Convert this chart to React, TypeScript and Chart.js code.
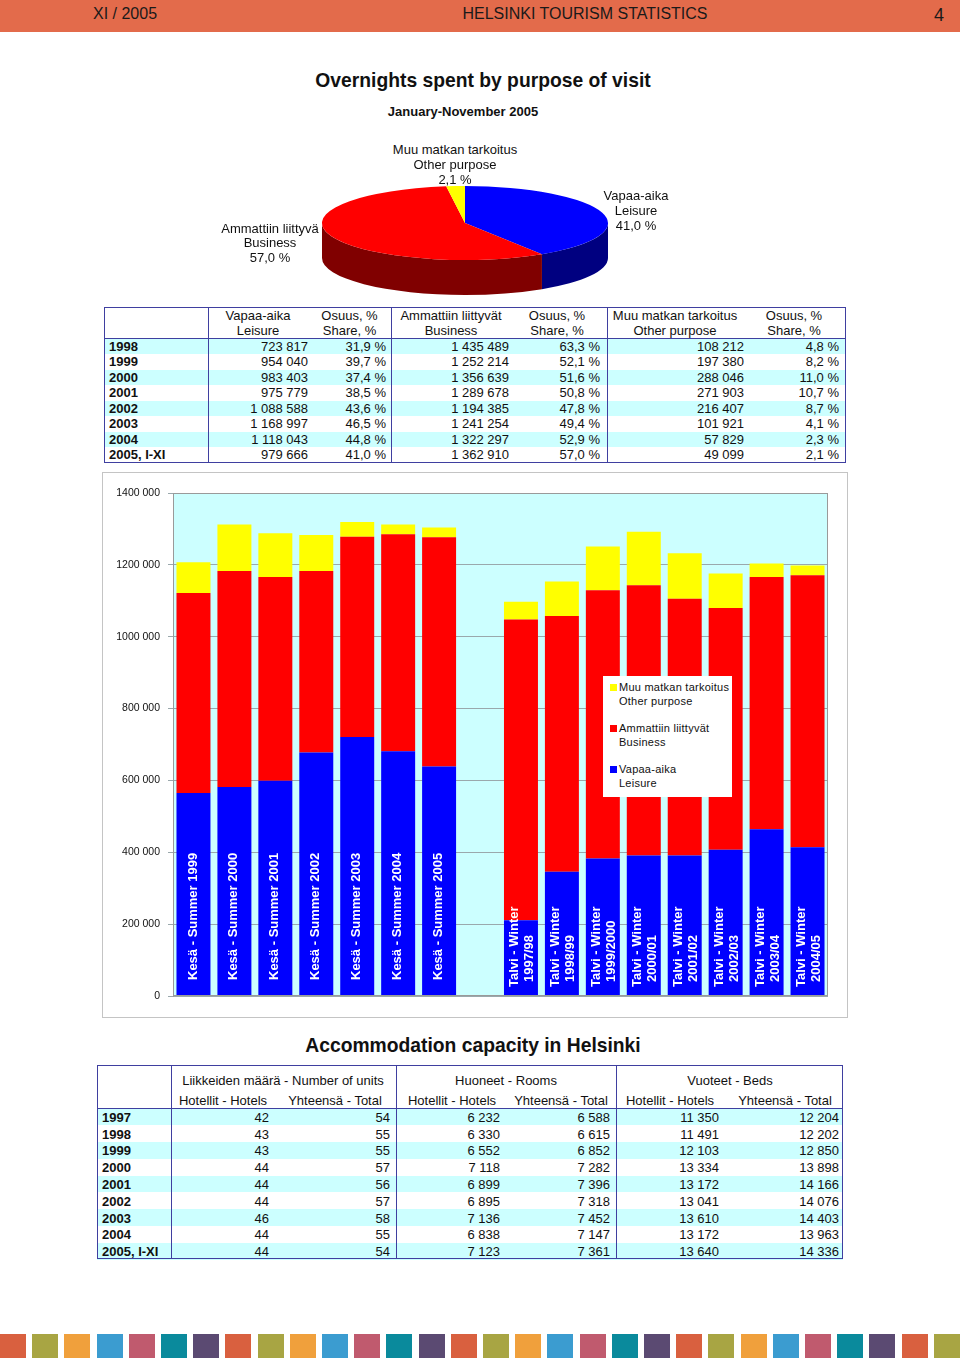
import React, { useEffect, useRef } from "react";
import { Chart, registerables } from "chart.js";

Chart.register(...registerables);

const FONT = '"Liberation Sans", Arial, Helvetica, sans-serif';

// ---------- Pie data ----------
const pieCategories = ["Vapaa-aika", "Ammattiin liittyvä", "Muu matkan tarkoitus"];
const pieCategoriesEn = ["Leisure", "Business", "Other purpose"];
const pieShares = [41.0, 57.0, 2.1];
const pieShareLabels = ["41,0 %", "57,0 %", "2,1 %"];

// ---------- Table 1 data ----------
const t1Years = ["1998", "1999", "2000", "2001", "2002", "2003", "2004", "2005, I-XI"];
const t1Leisure = ["723 817", "954 040", "983 403", "975 779", "1 088 588", "1 168 997", "1 118 043", "979 666"];
const t1LeisureShare = ["31,9 %", "39,7 %", "37,4 %", "38,5 %", "43,6 %", "46,5 %", "44,8 %", "41,0 %"];
const t1Business = ["1 435 489", "1 252 214", "1 356 639", "1 289 678", "1 194 385", "1 241 254", "1 322 297", "1 362 910"];
const t1BusinessShare = ["63,3 %", "52,1 %", "51,6 %", "50,8 %", "47,8 %", "49,4 %", "52,9 %", "57,0 %"];
const t1Other = ["108 212", "197 380", "288 046", "271 903", "216 407", "101 921", "57 829", "49 099"];
const t1OtherShare = ["4,8 %", "8,2 %", "11,0 %", "10,7 %", "8,7 %", "4,1 %", "2,3 %", "2,1 %"];

// ---------- Bar chart data ----------
const barCategories: (string | string[])[] = [
  "Kesä - Summer 1999", "Kesä - Summer 2000", "Kesä - Summer 2001", "Kesä - Summer 2002",
  "Kesä - Summer 2003", "Kesä - Summer 2004", "Kesä - Summer 2005", "",
  ["Talvi - Winter", "1997/98"], ["Talvi - Winter", "1998/99"], ["Talvi - Winter", "1999/2000"],
  ["Talvi - Winter", "2000/01"], ["Talvi - Winter", "2001/02"], ["Talvi - Winter", "2002/03"],
  ["Talvi - Winter", "2003/04"], ["Talvi - Winter", "2004/05"],
];
const leisureNights = [565000, 582000, 599000, 678000, 721000, 681000, 639000, null, 211000, 346000, 383000, 391000, 391000, 407000, 464000, 414000];
const businessNights = [557000, 601000, 567000, 505000, 557000, 604000, 638000, null, 837000, 712000, 746000, 752000, 715000, 673000, 702000, 757000];
const otherNights = [85000, 129000, 122000, 100000, 41000, 27000, 27000, null, 49000, 96000, 122000, 149000, 126000, 96000, 38000, 27000];
const yTickLabels = ["0", "200 000", "400 000", "600 000", "800 000", "1000 000", "1200 000", "1400 000"];
const legendItems = [
  { fi: "Muu matkan tarkoitus", en: "Other purpose", color: "#FFFF00" },
  { fi: "Ammattiin liittyvät", en: "Business", color: "#FF0000" },
  { fi: "Vapaa-aika", en: "Leisure", color: "#0000FF" },
];

// ---------- Table 2 data ----------
const t2Years = ["1997", "1998", "1999", "2000", "2001", "2002", "2003", "2004", "2005, I-XI"];
const t2UnitsHotels = ["42", "43", "43", "44", "44", "44", "46", "44", "44"];
const t2UnitsTotal = ["54", "55", "55", "57", "56", "57", "58", "55", "54"];
const t2RoomsHotels = ["6 232", "6 330", "6 552", "7 118", "6 899", "6 895", "7 136", "6 838", "7 123"];
const t2RoomsTotal = ["6 588", "6 615", "6 852", "7 282", "7 396", "7 318", "7 452", "7 147", "7 361"];
const t2BedsHotels = ["11 350", "11 491", "12 103", "13 334", "13 172", "13 041", "13 610", "13 172", "13 640"];
const t2BedsTotal = ["12 204", "12 202", "12 850", "13 898", "14 166", "14 076", "14 403", "13 963", "14 336"];

const stripeColors = ["#D9603F", "#A8A543", "#F0A03C", "#3B9CD0", "#C05A6E", "#0A8A9C", "#5B4A72"];

// ---------- helpers ----------
function T(props: { x: number; y: number; a?: "l" | "r" | "c"; s?: number; b?: boolean; children: any; st?: any }) {
  const { x, y, a = "l", s = 13, b = false, children, st } = props;
  const h = Math.round(s * 1.3);
  const style: any = {
    position: "absolute",
    top: y - h / 2,
    height: h,
    lineHeight: h + "px",
    fontSize: s,
    fontWeight: b ? "bold" : "normal",
    whiteSpace: "nowrap",
    color: "#111",
    ...st,
  };
  if (a === "l") style.left = x;
  else if (a === "r") {
    style.left = x - 400;
    style.width = 400;
    style.textAlign = "right";
  } else {
    style.left = x - 300;
    style.width = 600;
    style.textAlign = "center";
  }
  return <div style={style}>{children}</div>;
}

function Box(props: { l: number; t: number; w: number; h: number; bg?: string; st?: any }) {
  const { l, t, w, h, bg, st } = props;
  return <div style={{ position: "absolute", left: l, top: t, width: w, height: h, background: bg, ...st }} />;
}

// ---------- Pie chart ----------
const PIE = { cx: 155, cy: 48, rx: 143, ry: 37, depth: 35 };
const pieColors = ["#0000FF", "#FF0000", "#FFFF00"];
const pieSideColors = ["#000080", "#800000", "#808000"];

const pie3dPlugin = {
  id: "pie3d",
  beforeDatasetsDraw(chart: any) {
    const ctx = chart.ctx;
    const meta = chart.getDatasetMeta(0);
    if (!meta.data.length) return;
    const a0: any = meta.data[0];
    const R = a0.outerRadius;
    meta.data.forEach((arc: any, i: number) => {
      const s = arc.startAngle;
      const e = arc.endAngle;
      for (let k = -1; k <= 1; k++) {
        const lo = k * 2 * Math.PI;
        const hi = lo + Math.PI;
        const a1 = Math.max(s, lo);
        const a2 = Math.min(e, hi);
        if (a2 <= a1) continue;
        ctx.beginPath();
        ctx.ellipse(PIE.cx, PIE.cy, PIE.rx, PIE.ry, 0, a1, a2, false);
        ctx.lineTo(PIE.cx + PIE.rx * Math.cos(a2), PIE.cy + PIE.ry * Math.sin(a2) + PIE.depth);
        ctx.ellipse(PIE.cx, PIE.cy + PIE.depth, PIE.rx, PIE.ry, 0, a2, a1, true);
        ctx.closePath();
        ctx.fillStyle = pieSideColors[i];
        ctx.fill();
      }
    });
    ctx.save();
    ctx.translate(PIE.cx, PIE.cy);
    ctx.scale(PIE.rx / R, PIE.ry / R);
    ctx.translate(-a0.x, -a0.y);
  },
  afterDatasetsDraw(chart: any) {
    chart.ctx.restore();
  },
};

function PieChart() {
  const ref = useRef<HTMLCanvasElement>(null);
  useEffect(() => {
    const chart = new Chart(ref.current as HTMLCanvasElement, {
      type: "pie",
      data: {
        labels: pieCategories.map((c, i) => c + " " + pieCategoriesEn[i]),
        datasets: [
          {
            data: pieShares,
            backgroundColor: pieColors,
            borderWidth: 0,
            clip: false,
          } as any,
        ],
      },
      options: {
        animation: false,
        responsive: false,
        events: [],
        plugins: { legend: { display: false }, tooltip: { enabled: false } },
      },
      plugins: [pie3dPlugin],
    });
    return () => chart.destroy();
  }, []);
  return <canvas ref={ref} width={310} height={130} style={{ position: "absolute", left: 310, top: 175, width: 310, height: 130 }} />;
}

// ---------- Bar chart ----------
const barFramePlugin = {
  id: "barFrame",
  beforeDraw(chart: any) {
    const { ctx, width, height, chartArea } = chart;
    ctx.save();
    ctx.fillStyle = "#FFFFFF";
    ctx.fillRect(0, 0, width, height);
    ctx.strokeStyle = "#C4C4C4";
    ctx.lineWidth = 1;
    ctx.strokeRect(0.5, 0.5, width - 1, height - 1);
    ctx.fillStyle = "#CCFFFF";
    ctx.fillRect(chartArea.left, chartArea.top, chartArea.right - chartArea.left, chartArea.bottom - chartArea.top);
    ctx.restore();
  },
  afterDraw(chart: any) {
    const { ctx, chartArea } = chart;
    ctx.save();
    ctx.strokeStyle = "#9A9A9A";
    ctx.lineWidth = 1;
    ctx.strokeRect(
      Math.round(chartArea.left) + 0.5,
      Math.round(chartArea.top) + 0.5,
      Math.round(chartArea.right - chartArea.left) - 1,
      Math.round(chartArea.bottom - chartArea.top) - 1
    );
    ctx.restore();
  },
};

const barLabelPlugin = {
  id: "barLabels",
  afterDatasetsDraw(chart: any) {
    const ctx = chart.ctx;
    const xs = chart.scales.x;
    const ys = chart.scales.y;
    const base = ys.getPixelForValue(0);
    ctx.save();
    ctx.font = `bold 13px ${FONT}`;
    ctx.fillStyle = "#FFFFFF";
    ctx.textAlign = "left";
    ctx.textBaseline = "middle";
    barCategories.forEach((lab, i) => {
      const lines = Array.isArray(lab) ? lab : lab ? [lab] : [];
      if (!lines.length) return;
      const x = xs.getPixelForValue(i);
      lines.forEach((line, j) => {
        const off = lines.length === 1 ? -0.5 : (j - 0.5) * 15 + 1;
        const start = lines.length === 1 ? 16 : j === 0 ? 9 : 14;
        ctx.save();
        ctx.translate(x + off, base - start);
        ctx.rotate(-Math.PI / 2);
        ctx.fillText(line, 0, 0);
        ctx.restore();
      });
    });
    ctx.restore();
  },
};

function BarChart() {
  const ref = useRef<HTMLCanvasElement>(null);
  useEffect(() => {
    const chart = new Chart(ref.current as HTMLCanvasElement, {
      type: "bar",
      data: {
        labels: barCategories as any,
        datasets: [
          { label: "Vapaa-aika Leisure", data: leisureNights, backgroundColor: "#0000FF" },
          { label: "Ammattiin liittyvät Business", data: businessNights, backgroundColor: "#FF0000" },
          { label: "Muu matkan tarkoitus Other purpose", data: otherNights, backgroundColor: "#FFFF00" },
        ] as any,
      },
      options: {
        animation: false,
        responsive: false,
        events: [],
        layout: { padding: { top: 21, right: 20, bottom: 22, left: 0 } },
        datasets: { bar: { categoryPercentage: 1, barPercentage: 0.83 } } as any,
        plugins: { legend: { display: false }, tooltip: { enabled: false } },
        scales: {
          x: { stacked: true, display: false },
          y: {
            stacked: true,
            min: 0,
            max: 1400000,
            ticks: {
              stepSize: 200000,
              callback: (v: any) => yTickLabels[Math.round(Number(v) / 200000)],
              font: { family: FONT, size: 10.5 },
              color: "#111",
              padding: 8,
            },
            grid: { color: "#9AA8AC", tickLength: 5, lineWidth: 1 },
            border: { color: "#9A9A9A" },
            afterFit: (s: any) => {
              s.width = 71;
            },
          } as any,
        },
      },
      plugins: [barFramePlugin, barLabelPlugin],
    });
    return () => chart.destroy();
  }, []);
  return <canvas ref={ref} width={746} height={546} style={{ position: "absolute", left: 102, top: 472, width: 746, height: 546 }} />;
}

// ---------- App ----------
export default function App() {
  const T1_BORDER = "#3F3FA0";
  const t1RowY = (i: number) => 346 + i * 15.57;
  const t2RowY = (i: number) => 1117.3 + i * 16.8;

  return (
    <div
      style={{
        position: "absolute",
        left: 0,
        top: 0,
        width: 960,
        height: 1358,
        background: "#fff",
        fontFamily: FONT,
        overflow: "hidden",
      }}
    >
      {/* Header bar */}
      <Box l={0} t={0} w={960} h={32} bg="#E36B4B" />
      <T x={93} y={13} s={16} st={{ color: "#1a1a1a" }}>XI / 2005</T>
      <T x={585} y={13} a="c" s={16} st={{ color: "#1a1a1a" }}>HELSINKI TOURISM STATISTICS</T>
      <T x={944} y={15} a="r" s={18} st={{ color: "#1a1a1a" }}>4</T>

      {/* Titles */}
      <T x={483} y={80} a="c" s={19.3} b>Overnights spent by purpose of visit</T>
      <T x={463} y={111} a="c" s={13} b>January-November 2005</T>

      {/* Pie */}
      <PieChart />
      <T x={455} y={149} a="c">{pieCategories[2]}</T>
      <T x={455} y={164} a="c">{pieCategoriesEn[2]}</T>
      <T x={455} y={179} a="c">{pieShareLabels[2]}</T>
      <T x={636} y={195} a="c">{pieCategories[0]}</T>
      <T x={636} y={210} a="c">{pieCategoriesEn[0]}</T>
      <T x={636} y={225} a="c">{pieShareLabels[0]}</T>
      <T x={270} y={228} a="c">{pieCategories[1]}</T>
      <T x={270} y={242} a="c">{pieCategoriesEn[1]}</T>
      <T x={270} y={257} a="c">{pieShareLabels[1]}</T>

      {/* Table 1 */}
      {t1Years.map((_, i) =>
        i % 2 === 0 ? <Box key={"t1bg" + i} l={104} t={338.5 + i * 15.57} w={742} h={15.57} bg="#CCFFFF" /> : null
      )}
      <Box l={104} t={307} w={742} h={156} st={{ border: `1px solid ${T1_BORDER}`, boxSizing: "border-box" }} />
      <Box l={208} t={307} w={1} h={156} bg={T1_BORDER} />
      <Box l={391} t={307} w={1} h={156} bg={T1_BORDER} />
      <Box l={607} t={307} w={1} h={156} bg={T1_BORDER} />
      <Box l={104} t={338} w={742} h={1} bg={T1_BORDER} />
      <T x={258} y={315.5} a="c">Vapaa-aika</T>
      <T x={258} y={330.5} a="c">Leisure</T>
      <T x={349.5} y={315.5} a="c">Osuus, %</T>
      <T x={349.5} y={330.5} a="c">Share, %</T>
      <T x={451} y={315.5} a="c">Ammattiin liittyvät</T>
      <T x={451} y={330.5} a="c">Business</T>
      <T x={557} y={315.5} a="c">Osuus, %</T>
      <T x={557} y={330.5} a="c">Share, %</T>
      <T x={675} y={315.5} a="c">Muu matkan tarkoitus</T>
      <T x={675} y={330.5} a="c">Other purpose</T>
      <T x={794} y={315.5} a="c">Osuus, %</T>
      <T x={794} y={330.5} a="c">Share, %</T>
      {t1Years.map((yr, i) => (
        <React.Fragment key={"t1r" + i}>
          <T x={109} y={t1RowY(i)} b>{yr}</T>
          <T x={308} y={t1RowY(i)} a="r">{t1Leisure[i]}</T>
          <T x={386} y={t1RowY(i)} a="r">{t1LeisureShare[i]}</T>
          <T x={509} y={t1RowY(i)} a="r">{t1Business[i]}</T>
          <T x={600} y={t1RowY(i)} a="r">{t1BusinessShare[i]}</T>
          <T x={744} y={t1RowY(i)} a="r">{t1Other[i]}</T>
          <T x={839} y={t1RowY(i)} a="r">{t1OtherShare[i]}</T>
        </React.Fragment>
      ))}

      {/* Bar chart */}
      <BarChart />
      <div
        style={{
          position: "absolute",
          left: 603,
          top: 676,
          width: 129,
          height: 121,
          background: "#fff",
        }}
      />
      {legendItems.map((it, i) => {
        const y0 = 687 + i * 41;
        return (
          <React.Fragment key={"lg" + i}>
            <Box l={610} t={y0 - 3.5} w={7} h={7} bg={it.color} />
            <T x={619} y={y0} s={11} st={{ letterSpacing: "0.25px" }}>{it.fi}</T>
            <T x={619} y={y0 + 13.5} s={11} st={{ letterSpacing: "0.25px" }}>{it.en}</T>
          </React.Fragment>
        );
      })}

      {/* Table 2 */}
      <T x={473} y={1045} a="c" s={19.3} b>Accommodation capacity in Helsinki</T>
      {t2Years.map((_, i) =>
        i % 2 === 0 ? <Box key={"t2bg" + i} l={97} t={1108.5 + i * 16.8} w={746} h={16.8} bg="#CCFFFF" /> : null
      )}
      <Box l={97} t={1065} w={746} h={194} st={{ border: `1px solid ${T1_BORDER}`, boxSizing: "border-box" }} />
      <Box l={171} t={1065} w={1} h={194} bg={T1_BORDER} />
      <Box l={396} t={1065} w={1} h={194} bg={T1_BORDER} />
      <Box l={616} t={1065} w={1} h={194} bg={T1_BORDER} />
      <Box l={97} t={1108} w={746} h={1} bg={T1_BORDER} />
      <T x={283} y={1080.5} a="c">Liikkeiden määrä - Number of units</T>
      <T x={506} y={1080.5} a="c">Huoneet - Rooms</T>
      <T x={730} y={1080.5} a="c">Vuoteet - Beds</T>
      <T x={223} y={1100} a="c">Hotellit - Hotels</T>
      <T x={335} y={1100} a="c">Yhteensä - Total</T>
      <T x={452} y={1100} a="c">Hotellit - Hotels</T>
      <T x={561} y={1100} a="c">Yhteensä - Total</T>
      <T x={670} y={1100} a="c">Hotellit - Hotels</T>
      <T x={785} y={1100} a="c">Yhteensä - Total</T>
      {t2Years.map((yr, i) => (
        <React.Fragment key={"t2r" + i}>
          <T x={102} y={t2RowY(i)} b>{yr}</T>
          <T x={269} y={t2RowY(i)} a="r">{t2UnitsHotels[i]}</T>
          <T x={390} y={t2RowY(i)} a="r">{t2UnitsTotal[i]}</T>
          <T x={500} y={t2RowY(i)} a="r">{t2RoomsHotels[i]}</T>
          <T x={610} y={t2RowY(i)} a="r">{t2RoomsTotal[i]}</T>
          <T x={719} y={t2RowY(i)} a="r">{t2BedsHotels[i]}</T>
          <T x={839} y={t2RowY(i)} a="r">{t2BedsTotal[i]}</T>
        </React.Fragment>
      ))}

      {/* Bottom stripes */}
      {Array.from({ length: 30 }).map((_, i) => (
        <Box key={"st" + i} l={i * 32.2} t={1334} w={26} h={24} bg={stripeColors[i % stripeColors.length]} />
      ))}
    </div>
  );
}
